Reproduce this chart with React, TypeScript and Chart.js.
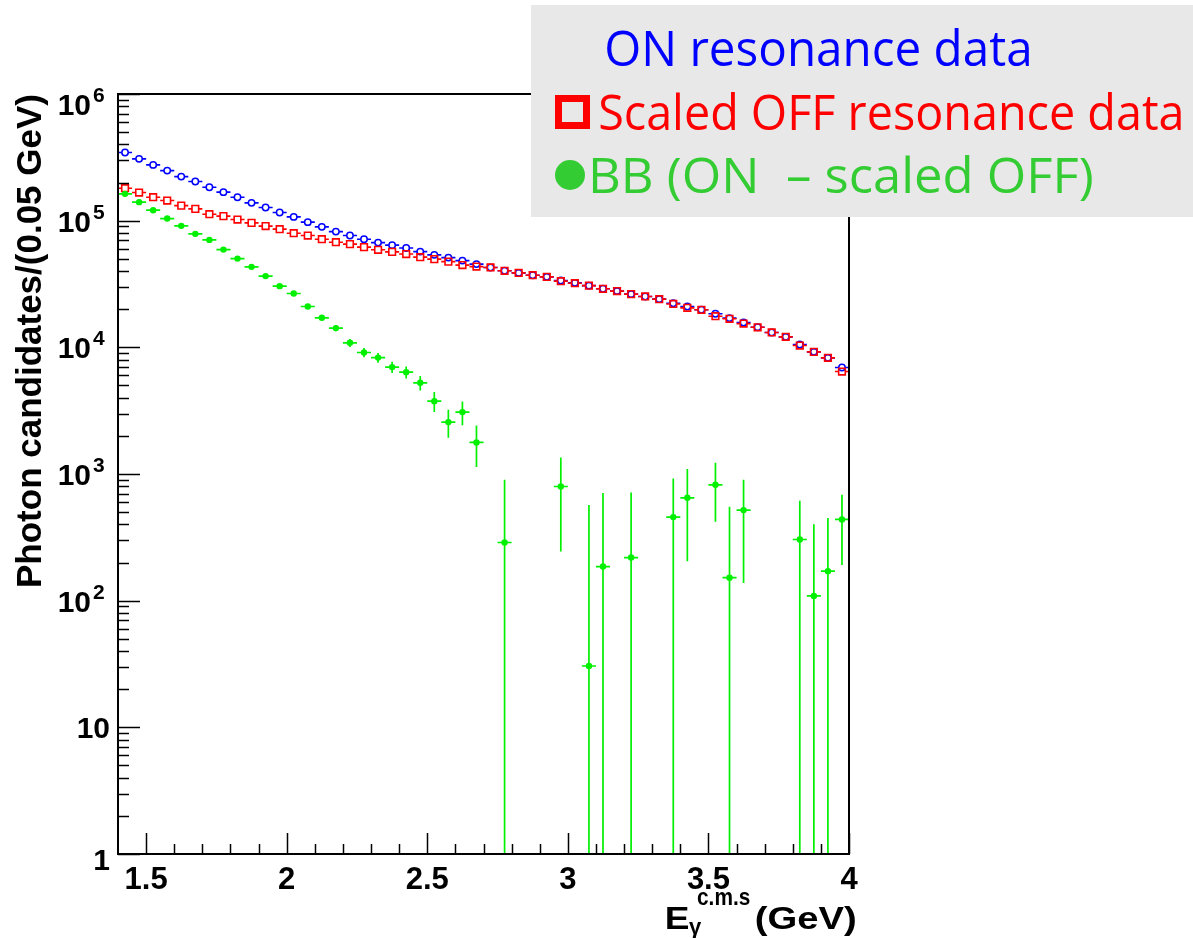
import React, { useEffect, useRef } from "react";
import { Chart, registerables } from "chart.js";

Chart.register(...registerables);

// ---------------- data ----------------
const binCenters = [
  1.425, 1.475, 1.525, 1.575, 1.625, 1.675, 1.725, 1.775, 1.825, 1.875,
  1.925, 1.975, 2.025, 2.075, 2.125, 2.175, 2.225, 2.275, 2.325, 2.375,
  2.425, 2.475, 2.525, 2.575, 2.625, 2.675, 2.725, 2.775, 2.825, 2.875,
  2.925, 2.975, 3.025, 3.075, 3.125, 3.175, 3.225, 3.275, 3.325, 3.375,
  3.425, 3.475, 3.525, 3.575, 3.625, 3.675, 3.725, 3.775, 3.825, 3.875,
  3.925, 3.975,
];
const binHalfWidth = 0.025;

const onData = [
  345000, 307500, 275600, 248500, 222800, 203600, 183700, 167900, 153200, 138200,
  126900, 115900, 107100, 97300, 89400, 82000, 76300, 71400, 67100, 64100,
  60800, 57000, 53700, 51100, 48400, 45400, 42700, 40200, 38700, 37100,
  36000, 33700, 32300, 30700, 29000, 27800, 26300, 25200, 24000, 22300,
  21000, 19800, 18400, 17000, 15700, 14400, 13100, 12100, 10520, 9210,
  8260, 6930,
];

const offData = [
  180400, 166700, 153200, 144100, 131500, 123900, 112500, 108600, 102100, 96100,
  90600, 85700, 79600, 76300, 71400, 67600, 65300, 61800, 58900, 56700,
  54500, 51500, 49700, 47500, 44600, 43400, 42700, 40200, 38700, 37100,
  36000, 33300, 32100, 30700, 29000, 27800, 26300, 25200, 24000, 22000,
  20500, 19800, 17600, 16800, 15400, 14400, 13100, 12100, 10330, 9210,
  8260, 6440,
];

const bbData: (number | null)[] = [
  162800, 140000, 121000, 103900, 91000, 78700, 70500, 59100, 50200, 43200,
  36500, 30400, 26600, 21000, 17100, 14180, 10860, 9100, 8300, 6980,
  6370, 5250, 3760, 2570, 3080, 1774, null, 288, null, null,
  null, 797, null, 30.5, 186, null, 219, null, null, 457,
  649, null, 822, 152, 519, null, null, null, 304, 109,
  171, 438,
];

const bbErr: (number | null)[] = [
  1540, 1450, 1370, 1300, 1240, 1180, 1130, 1080, 1040, 1000,
  960, 920, 890, 860, 830, 800, 780, 760, 740, 720,
  700, 690, 670, 640, 650, 640, null, 612, null, null,
  null, 553, null, 538, 521, null, 495, null, null, 466,
  444, null, 403, 399, 381, null, null, null, 311, 293,
  278, 247,
];

const xMajorTicks = [1.5, 2, 2.5, 3, 3.5, 4];
const xTickLabels = ["1.5", "2", "2.5", "3", "3.5", "4"];
const xMinorTicks = [
  1.6, 1.7, 1.8, 1.9, 2.1, 2.2, 2.3, 2.4, 2.6, 2.7, 2.8, 2.9,
  3.1, 3.2, 3.3, 3.4, 3.6, 3.7, 3.8, 3.9,
];
const yMajorTicks = [1, 10, 100, 1000, 10000, 100000, 1000000];
const yTickBase = ["1", "10", "10", "10", "10", "10", "10"];
const yTickExp = ["", "", "2", "3", "4", "5", "6"];
const yMinorMultipliers = [2, 3, 4, 5, 6, 7, 8, 9];

const legendLabels = [
  "ON resonance data",
  "Scaled OFF resonance data",
  "BB (ON  \u2013 scaled OFF)",
];
const yTitle = "Photon candidates/(0.05 GeV)";
const xTitleMain = "E";
const xTitleSup = "c.m.s";
const xTitleSub = "\u03b3";
const xTitleUnit = "(GeV)";

// ---------------- geometry / style ----------------
const W = 1193;
const H = 938;
const AREA = { left: 118, right: 849, top: 94, bottom: 854 };
const BOLD = '"Liberation Sans", Arial, Helvetica, sans-serif';
const LEGEND_FONT = '"Open Sans", "Noto Sans", sans-serif';

const BLUE = "#0000ff";
const RED = "#ff0000";
const GREEN = "#00f000";
const LEGEND_GREEN = "#33cc33";

function mkPoints(vals: (number | null)[], errs: (number | null)[] | null) {
  const out: any[] = [];
  vals.forEach((v, i) => {
    if (v == null) return;
    out.push({ x: binCenters[i], y: v, xe: binHalfWidth, ye: errs ? errs[i] || 0 : 0 });
  });
  return out;
}

function fitText(ctx: CanvasRenderingContext2D, text: string, x0: number, x1: number, baseline: number, font: string, color: string) {
  ctx.save();
  ctx.font = font;
  ctx.fillStyle = color;
  ctx.textAlign = "left";
  ctx.textBaseline = "alphabetic";
  const m = ctx.measureText(text);
  const inkW = m.actualBoundingBoxRight + m.actualBoundingBoxLeft;
  const sx = (x1 - x0) / inkW;
  ctx.translate(x0, baseline);
  ctx.scale(sx, 1);
  ctx.fillText(text, m.actualBoundingBoxLeft, 0);
  ctx.restore();
}

const errorBarPlugin = {
  id: "errbars",
  beforeDatasetDraw(chart: any, args: any) {
    const ds: any = chart.data.datasets[args.index];
    if (!ds.barColor) return;
    const xs = chart.scales.x;
    const ys = chart.scales.y;
    const a = chart.chartArea;
    const ctx: CanvasRenderingContext2D = chart.ctx;
    ctx.save();
    ctx.beginPath();
    ctx.rect(a.left, a.top, a.right - a.left, a.bottom - a.top);
    ctx.clip();
    ctx.strokeStyle = ds.barColor;
    ctx.lineWidth = ds.barWidth;
    const g = ds.barGap;
    ds.data.forEach((p: any) => {
      const px = xs.getPixelForValue(p.x);
      const py = ys.getPixelForValue(p.y);
      const xl = xs.getPixelForValue(p.x - p.xe);
      const xr = xs.getPixelForValue(p.x + p.xe);
      ctx.beginPath();
      ctx.moveTo(xl, py);
      ctx.lineTo(px - g, py);
      ctx.moveTo(px + g, py);
      ctx.lineTo(xr, py);
      if (p.ye) {
        const yt = ys.getPixelForValue(p.y + p.ye);
        const lo = p.y - p.ye;
        const yb = lo > 0 ? ys.getPixelForValue(lo) : a.bottom + 5;
        if (yt < py - g) {
          ctx.moveTo(px, py - g);
          ctx.lineTo(px, yt);
        }
        if (yb > py + g) {
          ctx.moveTo(px, py + g);
          ctx.lineTo(px, yb);
        }
      }
      ctx.stroke();
    });
    ctx.restore();
  },
};

const framePlugin = {
  id: "frame",
  afterDatasetsDraw(chart: any) {
    const ctx: CanvasRenderingContext2D = chart.ctx;
    const a = chart.chartArea;
    const xs = chart.scales.x;
    const ys = chart.scales.y;
    ctx.save();
    ctx.strokeStyle = "#000";
    ctx.lineWidth = 2;
    ctx.strokeRect(a.left, a.top, a.right - a.left, a.bottom - a.top);

    // x ticks (inside, upward)
    ctx.lineWidth = 1.5;
    ctx.beginPath();
    xMajorTicks.forEach((v) => {
      const px = Math.round(xs.getPixelForValue(v)) + 0.5;
      ctx.moveTo(px, a.bottom);
      ctx.lineTo(px, a.bottom - 21);
    });
    xMinorTicks.forEach((v) => {
      const px = Math.round(xs.getPixelForValue(v)) + 0.5;
      ctx.moveTo(px, a.bottom);
      ctx.lineTo(px, a.bottom - 10);
    });
    // y ticks (inside, rightward)
    yMajorTicks.forEach((v, i) => {
      const py = Math.round(ys.getPixelForValue(v)) + 0.5;
      ctx.moveTo(a.left, py);
      ctx.lineTo(a.left + 22, py);
      if (i < yMajorTicks.length - 1) {
        yMinorMultipliers.forEach((m) => {
          const pm = Math.round(ys.getPixelForValue(v * m)) + 0.5;
          ctx.moveTo(a.left, pm);
          ctx.lineTo(a.left + 11, pm);
        });
      }
    });
    ctx.stroke();

    // x tick labels
    ctx.fillStyle = "#000";
    ctx.font = `bold 31px ${BOLD}`;
    ctx.textAlign = "center";
    ctx.textBaseline = "alphabetic";
    xMajorTicks.forEach((v, i) => {
      ctx.fillText(xTickLabels[i], xs.getPixelForValue(v), 889);
    });

    // y tick labels
    yMajorTicks.forEach((v, i) => {
      let dy = 0;
      if (i === yMajorTicks.length - 1) dy = 10;
      if (i === 0) dy = 5;
      const py = ys.getPixelForValue(v) + dy;
      if (yTickExp[i]) {
        ctx.font = `bold 30px ${BOLD}`;
        ctx.textAlign = "right";
        ctx.fillText(yTickBase[i], 91, py + 11);
        ctx.font = `bold 21px ${BOLD}`;
        ctx.textAlign = "left";
        ctx.fillText(yTickExp[i], 93, py - 2);
      } else {
        ctx.font = `bold 30px ${BOLD}`;
        ctx.textAlign = "right";
        ctx.fillText(yTickBase[i], 110, py + 11);
      }
    });

    // y title (rotated, right-aligned to the top of the axis)
    ctx.save();
    ctx.translate(41, a.top);
    ctx.rotate(-Math.PI / 2);
    ctx.font = `bold 35px ${BOLD}`;
    ctx.textAlign = "right";
    ctx.fillText(yTitle, 0, 0);
    ctx.restore();

    // x title: E^{c.m.s}_gamma (GeV)
    fitText(ctx, xTitleUnit, 756, 856, 929, `bold 32px ${BOLD}`, "#000");
    fitText(ctx, xTitleSup, 697, 750, 905, `bold 24px ${BOLD}`, "#000");
    ctx.font = `bold 22px ${BOLD}`;
    ctx.textAlign = "left";
    ctx.fillText(xTitleSub, 689, 934);
    fitText(ctx, xTitleMain, 667, 689, 929, `bold 32px ${BOLD}`, "#000");
    ctx.restore();
  },
};

const legendPlugin = {
  id: "rootLegend",
  afterDraw(chart: any) {
    const ctx: CanvasRenderingContext2D = chart.ctx;
    ctx.save();
    ctx.fillStyle = "#e8e8e8";
    ctx.fillRect(531, 5, W - 531, 212);

    fitText(ctx, legendLabels[0], 607, 1029, 66, `50px ${LEGEND_FONT}`, BLUE);

    ctx.strokeStyle = RED;
    ctx.lineWidth = 7;
    ctx.strokeRect(558.5, 98.5, 28, 27);
    fitText(ctx, legendLabels[1], 600, 1181, 130, `50px ${LEGEND_FONT}`, RED);

    ctx.fillStyle = LEGEND_GREEN;
    ctx.beginPath();
    ctx.arc(570, 175, 15, 0, Math.PI * 2);
    ctx.fill();
    fitText(ctx, legendLabels[2], 592, 1092, 193, `50px ${LEGEND_FONT}`, LEGEND_GREEN);
    ctx.restore();
  },
};

export default function App() {
  const ref = useRef<HTMLCanvasElement>(null);

  useEffect(() => {
    if (!ref.current) return;
    const chart = new Chart(ref.current, {
      type: "scatter",
      data: {
        datasets: [
          {
            label: legendLabels[0],
            data: mkPoints(onData, null),
            pointStyle: "circle",
            pointRadius: 3.2,
            pointBorderWidth: 1.5,
            borderColor: BLUE,
            backgroundColor: "rgba(0,0,0,0)",
            showLine: false,
            order: 3,
            barColor: BLUE,
            barWidth: 1.6,
            barGap: 3.2,
          } as any,
          {
            label: legendLabels[1],
            data: mkPoints(offData, null),
            pointStyle: "rect",
            pointRadius: 4.7,
            pointBorderWidth: 1.6,
            borderColor: RED,
            backgroundColor: "rgba(0,0,0,0)",
            showLine: false,
            order: 2,
            barColor: RED,
            barWidth: 1.6,
            barGap: 3.3,
          } as any,
          {
            label: legendLabels[2],
            data: mkPoints(bbData, bbErr),
            pointStyle: "circle",
            pointRadius: 3.2,
            pointBorderWidth: 0,
            borderColor: GREEN,
            backgroundColor: GREEN,
            showLine: false,
            order: 1,
            barColor: GREEN,
            barWidth: 1.7,
            barGap: 0,
          } as any,
        ],
      },
      options: {
        animation: false,
        responsive: false,
        devicePixelRatio: 1,
        events: [],
        layout: {
          padding: { left: 0, top: AREA.top, right: W - AREA.right, bottom: 0 },
        },
        plugins: {
          legend: { display: false },
          title: { display: false },
          tooltip: { enabled: false },
        },
        scales: {
          x: {
            type: "linear",
            min: 1.4,
            max: 4.0,
            grid: { display: false },
            border: { display: false },
            ticks: { display: false },
            afterFit: (s: any) => {
              s.height = H - AREA.bottom;
            },
          },
          y: {
            type: "logarithmic",
            min: 1,
            max: 1000000,
            grid: { display: false },
            border: { display: false },
            ticks: { display: false },
            afterFit: (s: any) => {
              s.width = AREA.left;
            },
          },
        },
      } as any,
      plugins: [errorBarPlugin, framePlugin, legendPlugin],
    });
    return () => chart.destroy();
  }, []);

  return (
    <div style={{ position: "absolute", left: 0, top: 0, width: W, height: H, background: "#fff" }}>
      <canvas ref={ref} width={W} height={H} style={{ display: "block", width: W, height: H }} />
    </div>
  );
}
